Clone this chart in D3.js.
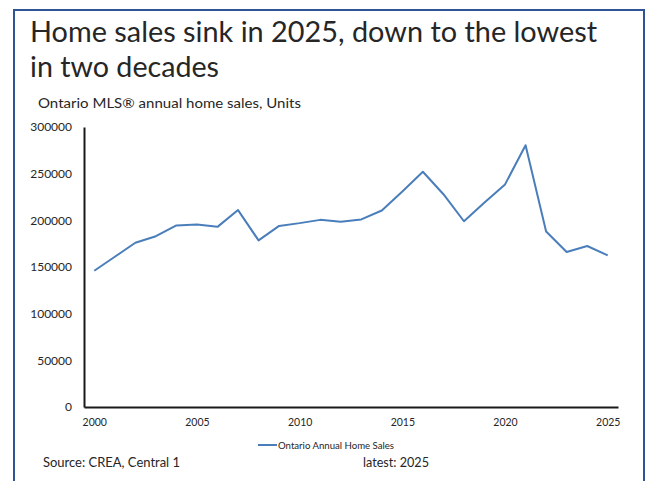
<!DOCTYPE html>
<html>
<head>
<meta charset="utf-8">
<script src="https://cdn.jsdelivr.net/npm/d3@7"></script>
<style>
  body { margin: 0; background: #fff; }
  text { font-family: Lato, "Open Sans", sans-serif; }
</style>
</head>
<body>
<div id="grafico"></div>
<script>
// datos: ventas anuales de viviendas en Ontario (unidades)
const ANIOS = d3.range(2000, 2026);
const VENTAS = [
  146000, 161000, 176000, 183000, 194500, 195500, 193000, 211000, 178500, 194000,
  197000, 200500, 198500, 201000, 210500, 231000, 252000, 228000, 199000, 219000,
  238500, 280500, 188000, 166000, 172500, 162500
];
const TICKS_Y = [0, 50000, 100000, 150000, 200000, 250000, 300000];
const TICKS_X = [2000, 2005, 2010, 2015, 2020, 2025];
const TITULO = ["Home sales sink in 2025, down to the lowest", "in two decades"];
const SUBTITULO = "Ontario MLS\u00AE annual home sales, Units";
const SERIE = "Ontario Annual Home Sales";
const FUENTE = "Source: CREA, Central 1";
const ULTIMO = "latest: 2025";

const WIDTH = 649;
const HEIGHT = 481;

const svg = d3.select("#grafico").append("svg")
  .attr("width", WIDTH).attr("height", HEIGHT);

// marco
svg.append("rect")
  .attr("x", 14).attr("y", 10)
  .attr("width", 630).attr("height", 490)
  .attr("fill", "none")
  .attr("stroke", "#2F5496")
  .attr("stroke-width", 2);

// ajusta el ancho del texto al de la imagen
function ajustar(sel, ancho) {
  sel.attr("textLength", ancho).attr("lengthAdjust", "spacingAndGlyphs");
}

svg.append("text").attr("x", 30).attr("y", 42)
  .attr("font-size", 28).attr("fill", "#262626")
  .text(TITULO[0]).call(ajustar, 567);
svg.append("text").attr("x", 30).attr("y", 77)
  .attr("font-size", 28).attr("fill", "#262626")
  .text(TITULO[1]).call(ajustar, 189);

svg.append("text").attr("x", 38).attr("y", 108)
  .attr("font-size", 13.5).attr("fill", "#262626")
  .text(SUBTITULO).call(ajustar, 263);

// escalas
const x = d3.scalePoint().domain(ANIOS).range([84, 618]).padding(0.5);
const y = d3.scaleLinear().domain([0, 300000]).range([407, 127]);

// eje y
const ejeY = svg.append("g")
  .attr("transform", "translate(84,0)")
  .call(d3.axisLeft(y).tickValues(TICKS_Y).tickSize(0).tickPadding(12).tickFormat(d3.format("d")));
ejeY.select(".domain").attr("stroke", "#1a1a1a").attr("stroke-width", 2);
ejeY.selectAll("text").attr("font-size", 12).attr("fill", "#262626")
  .attr("font-family", "Lato, sans-serif");

// eje x
const ejeX = svg.append("g")
  .attr("transform", "translate(0,407)")
  .call(d3.axisBottom(x).tickValues(TICKS_X).tickSize(0).tickPadding(12));
ejeX.select(".domain").attr("stroke", "#1a1a1a").attr("stroke-width", 2);
ejeX.selectAll("text").attr("font-size", 10.5).attr("fill", "#262626")
  .attr("font-family", "Lato, sans-serif");

// línea
const linea = d3.line().x((d, i) => x(ANIOS[i])).y(d => y(d));
svg.append("path")
  .datum(VENTAS)
  .attr("d", linea)
  .attr("fill", "none")
  .attr("stroke", "#4A7EBB")
  .attr("stroke-width", 2)
  .attr("stroke-linejoin", "round");

// leyenda
svg.append("line")
  .attr("x1", 258).attr("x2", 277).attr("y1", 445).attr("y2", 445)
  .attr("stroke", "#4A7EBB").attr("stroke-width", 2);
svg.append("text").attr("x", 278).attr("y", 448.5)
  .attr("font-size", 9).attr("fill", "#262626")
  .text(SERIE).call(ajustar, 116);

// pie
svg.append("text").attr("x", 43).attr("y", 467)
  .attr("font-size", 12.5).attr("fill", "#262626")
  .text(FUENTE).call(ajustar, 137);
svg.append("text").attr("x", 363).attr("y", 467)
  .attr("font-size", 12.5).attr("fill", "#262626")
  .text(ULTIMO).call(ajustar, 66);
</script>
</body>
</html>
